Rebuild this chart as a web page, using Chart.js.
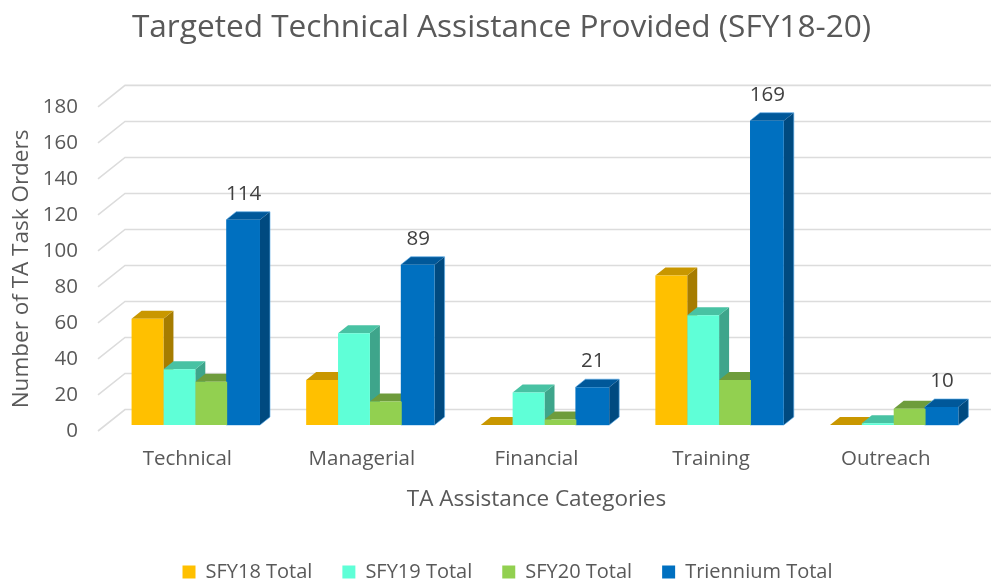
<!DOCTYPE html>
<html>
<head>
<meta charset="utf-8">
<style>html,body{margin:0;padding:0;background:#fff}canvas{display:block;filter:blur(0.5px)}</style>
<script src="https://cdn.jsdelivr.net/npm/chart.js@4"></script>
</head>
<body>
<canvas id="c" width="991" height="581"></canvas>
<script>
const categories = ["Technical", "Managerial", "Financial", "Training", "Outreach"];
const sfy18 = [59, 25, 0, 83, 0];
const sfy19 = [31, 51, 18, 61, 1];
const sfy20 = [24, 13, 3, 25, 9];
const triennium = [114, 89, 21, 169, 10];
const seriesNames = ["SFY18 Total", "SFY19 Total", "SFY20 Total", "Triennium Total"];
const FONT = "'Open Sans'";
const GREY = "#595959";
const shades = [
  {top: "#C99700", side: "#A67C00"},
  {top: "#48C2A3", side: "#3EA58B"},
  {top: "#6E9C3C", side: "#618A35"},
  {top: "#00589A", side: "#004A80"}
];
const box3d = {
  id: "box3d",
  afterLayout(chart) {
    const xb = chart.scales.xb, yb = chart.scales.yb;
    xb.left += 8; xb.right += 8; xb.configure();
    yb.top -= 6; yb.bottom -= 6; yb.configure();
    chart.legend.top += 19; chart.legend.bottom += 19;
    chart.legend.left += 17; chart.legend.right += 17;
    chart.legend.adjustHitBoxes();
    chart.titleBlock.left += 11; chart.titleBlock.right += 11;
  },
  beforeDatasetsDraw(chart) {
    const c = chart.ctx, y = chart.scales.y, a = chart.chartArea;
    c.save();
    c.strokeStyle = "#DCDCDC";
    c.lineWidth = 1.6;
    y.ticks.forEach(t => {
      const p = y.getPixelForValue(t.value);
      c.beginPath();
      c.moveTo(a.left - 2, p);
      c.lineTo(a.left + 25, p - 21.5);
      c.lineTo(chart.width, p - 21.5);
      c.stroke();
    });
    const dx = 10, dy = 8;
    shades.forEach((s, i) => {
      chart.getDatasetMeta(i).data.forEach(b => {
        const l = b.x - b.width / 2, r = b.x + b.width / 2;
        c.fillStyle = s.side;
        c.beginPath();
        c.moveTo(r, b.y); c.lineTo(r + dx, b.y - dy); c.lineTo(r + dx, b.base - dy); c.lineTo(r, b.base);
        c.closePath(); c.fill();
        c.fillStyle = s.top;
        c.beginPath();
        c.moveTo(l, b.y); c.lineTo(l + dx, b.y - dy); c.lineTo(r + dx, b.y - dy); c.lineTo(r, b.y);
        c.closePath(); c.fill();
        if (i === 3) {
          c.strokeStyle = "rgba(90,170,230,0.65)";
          c.lineWidth = 1;
          c.beginPath();
          c.moveTo(l, b.y); c.lineTo(l + dx, b.y - dy); c.lineTo(r + dx, b.y - dy);
          c.lineTo(r + dx, b.base - dy); c.lineTo(r, b.base); c.lineTo(l, b.base);
          c.stroke();
        }
      });
    });
    c.restore();
  },
  afterDatasetsDraw(chart) {
    const c = chart.ctx;
    c.save();
    c.font = "20.5px " + FONT;
    c.fillStyle = "#404040";
    c.textAlign = "center";
    c.textBaseline = "middle";
    chart.getDatasetMeta(3).data.forEach((b, i) => {
      c.fillText(String(triennium[i]), b.x + 0.5, b.y - 26);
    });
    c.restore();
  }
};
const mk = (label, data, color, extra) => Object.assign({
  label, data, backgroundColor: color, xAxisID: "xb", yAxisID: "yb",
  clip: false, borderWidth: 0
}, extra || {});
new Chart(document.getElementById("c"), {
  type: "bar",
  data: {
    labels: categories,
    datasets: [
      mk(seriesNames[0], sfy18, "#FFC000"),
      mk(seriesNames[1], sfy19, "#5FFFD7"),
      mk(seriesNames[2], sfy20, "#92D050"),
      mk(seriesNames[3], triennium, "#0070C0", {barPercentage: 1.06})
    ]
  },
  plugins: [box3d],
  options: {
    responsive: false,
    animation: false,
    categoryPercentage: 0.73,
    barPercentage: 1,
    layout: {padding: {left: 8, right: 18, top: 0, bottom: 8}},
    scales: {
      x: {
        type: "category", offset: true, labels: categories,
        grid: {display: false, drawTicks: false}, border: {display: false},
        ticks: {color: GREY, font: {family: FONT, size: 20.5}, padding: 16, maxRotation: 0},
        title: {display: true, text: "TA Assistance Categories", color: GREY, font: {family: FONT, size: 22.5}, padding: {top: 0, bottom: 0}},
        afterFit(s) { s.height = 82; }
      },
      xb: {type: "category", axis: "x", offset: true, display: false, labels: categories},
      y: {
        position: "left", min: 0, max: 180,
        grid: {display: false, drawTicks: false}, border: {display: false},
        ticks: {stepSize: 20, color: GREY, font: {family: FONT, size: 20.5}, padding: 22},
        title: {display: true, text: "Number of TA Task Orders", color: GREY, font: {family: FONT, size: 22.5}, padding: {top: 0, bottom: 0}},
        afterFit(s) { s.width = 92; }
      },
      yb: {axis: "y", position: "left", min: 0, max: 180, display: false}
    },
    plugins: {
      tooltip: {enabled: false},
      title: {
        display: true, text: "Targeted Technical Assistance Provided (SFY18-20)",
        color: GREY, font: {family: FONT, size: 31.6, weight: "normal"},
        padding: {top: 9, bottom: 60}
      },
      legend: {
        position: "bottom",
        labels: {color: GREY, font: {family: FONT, size: 20}, boxWidth: 13, boxHeight: 13, padding: 30}
      }
    }
  }
});
</script>
</body>
</html>
